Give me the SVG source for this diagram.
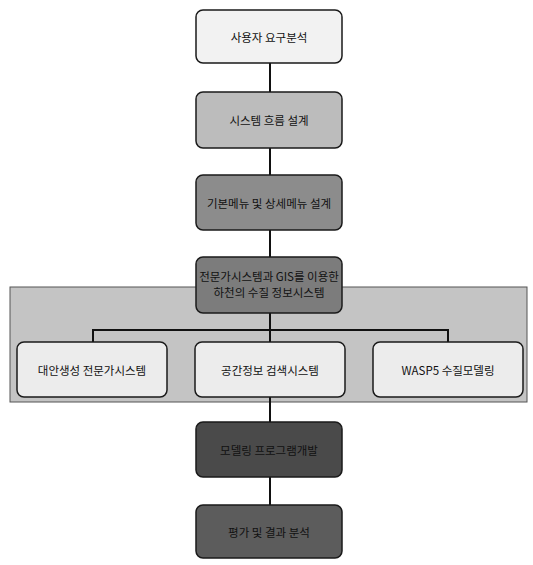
<svg xmlns="http://www.w3.org/2000/svg" width="533" height="565" viewBox="0 0 533 565">
<style>
.box{stroke:#1a1a1a;stroke-width:1.5}
.t{font-family:"Noto Sans CJK KR","Liberation Sans",sans-serif;font-size:11.5px;fill:#111;text-anchor:middle;dominant-baseline:central}
.ln{stroke:#111;stroke-width:2;fill:none}
</style>
<rect width="533" height="565" fill="#ffffff"/>
<rect x="10" y="287" width="517" height="115" fill="#c4c4c4" stroke="#555" stroke-width="1"/>
<g id="connectors">
<line class="ln" x1="270" y1="63" x2="270" y2="92"/>
<line class="ln" x1="270" y1="148" x2="270" y2="175"/>
<line class="ln" x1="270" y1="230" x2="270" y2="257"/>
<line class="ln" x1="270" y1="313" x2="270" y2="342"/>
<polyline class="ln" points="93,342 93,330 448,330 448,342"/>
<line class="ln" x1="270" y1="397" x2="270" y2="422"/>
<line class="ln" x1="270" y1="477" x2="270" y2="505"/>
</g>
<g id="n1"><rect class="box" x="196" y="10" width="146" height="53" rx="7" fill="#f2f2f2"/><text class="t" x="269" y="37">사용자 요구분석</text></g>
<g id="n2"><rect class="box" x="196" y="92" width="146" height="56" rx="7" fill="#bcbcbc"/><text class="t" x="269" y="120">시스템 흐름 설계</text></g>
<g id="n3"><rect class="box" x="196" y="175" width="146" height="55" rx="7" fill="#8c8c8c"/><text class="t" x="269" y="203">기본메뉴 및 상세메뉴 설계</text></g>
<g id="n4"><rect class="box" x="196" y="257" width="146" height="56" rx="7" fill="#7c7c7c"/><text class="t" x="269" y="276">전문가시스템과 GIS를 이용한</text><text class="t" x="269" y="292">하천의 수질 정보시스템</text></g>
<g id="n5"><rect class="box" x="17" y="342" width="150" height="55" rx="7" fill="#ececec"/><text class="t" x="92" y="370">대안생성 전문가시스템</text></g>
<g id="n6"><rect class="box" x="195" y="342" width="150" height="55" rx="7" fill="#ececec"/><text class="t" x="270" y="370">공간정보 검색시스템</text></g>
<g id="n7"><rect class="box" x="373" y="342" width="150" height="55" rx="7" fill="#ececec"/><text class="t" x="448" y="370">WASP5 수질모델링</text></g>
<g id="n8"><rect class="box" x="196" y="422" width="146" height="55" rx="7" fill="#4a4a4a"/><text class="t" x="269" y="450">모델링 프로그램개발</text></g>
<g id="n9"><rect class="box" x="196" y="505" width="146" height="53" rx="7" fill="#5c5c5c"/><text class="t" x="269" y="532">평가 및 결과 분석</text></g>
</svg>
